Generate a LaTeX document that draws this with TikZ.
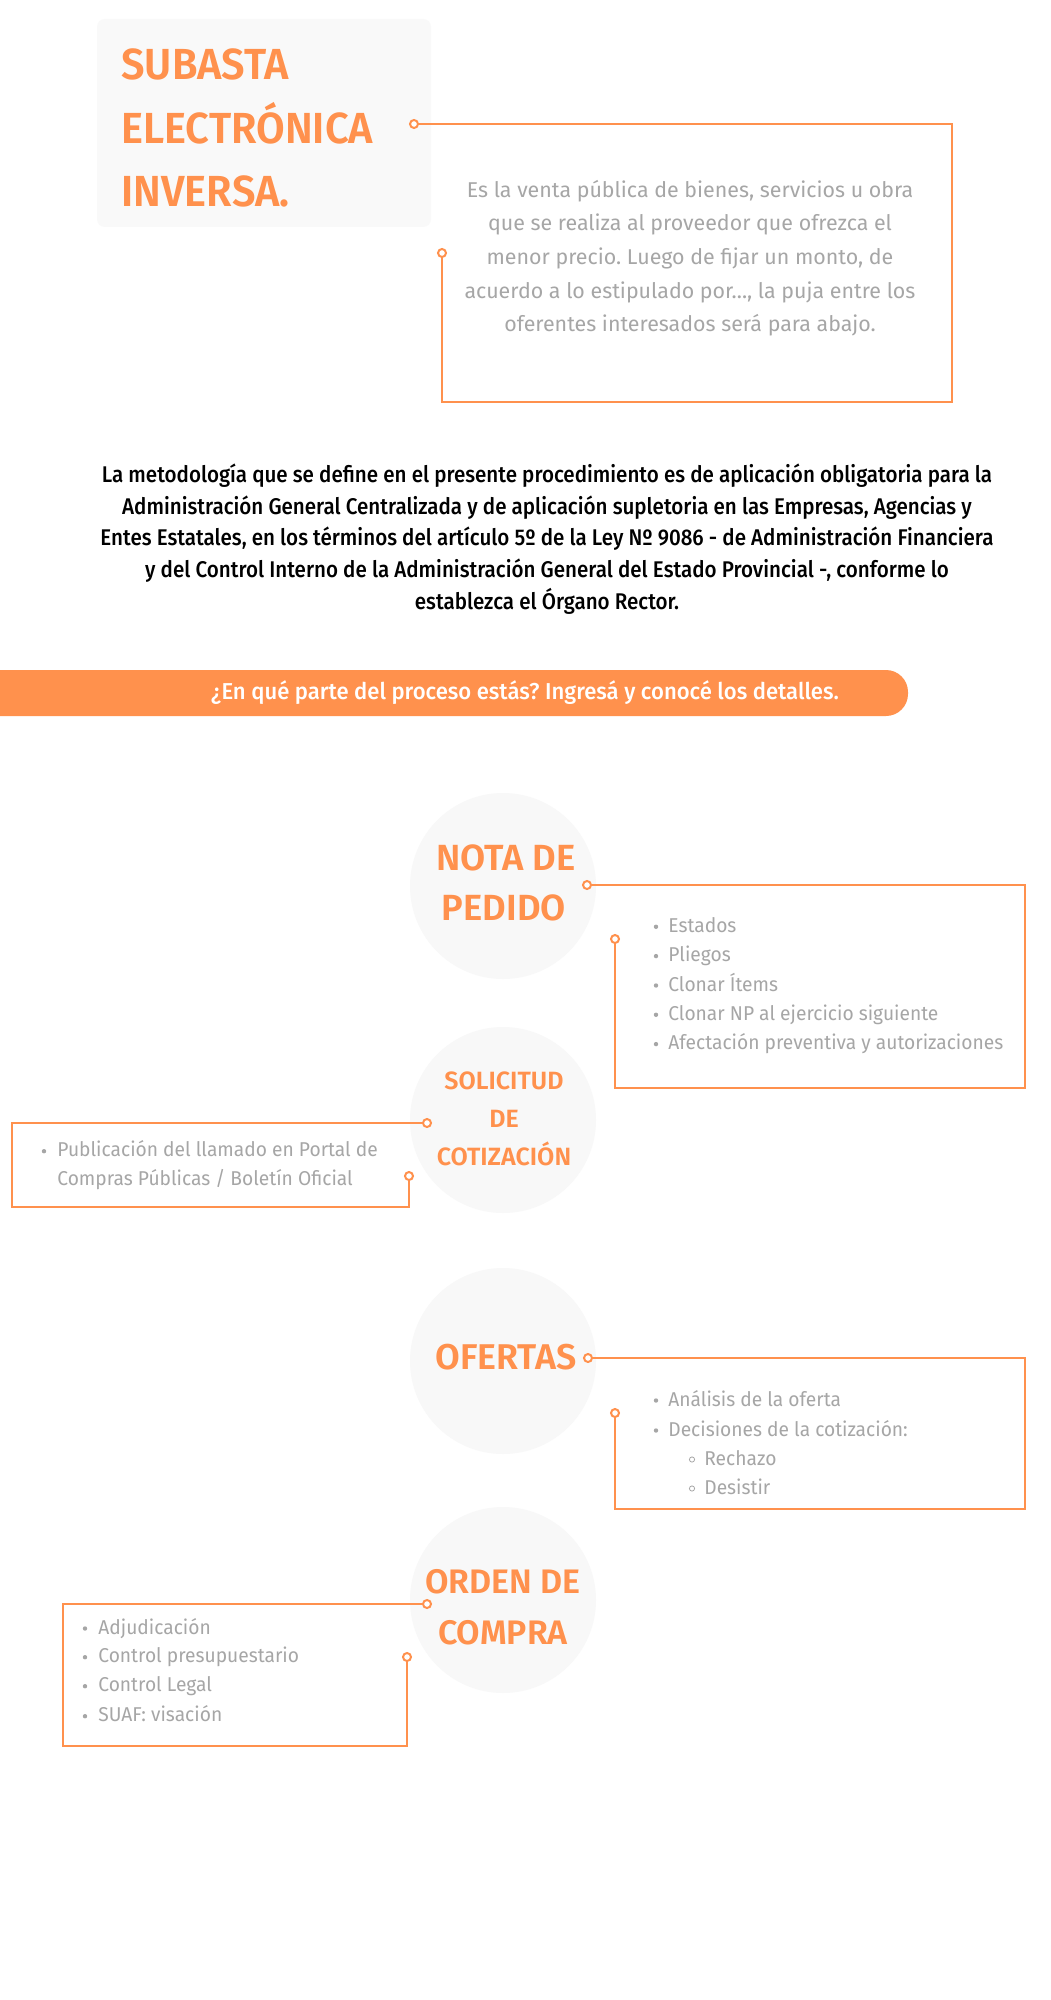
\documentclass[tikz,border=0pt]{standalone}
\usepackage{fontspec}
\setmainfont{Fira Sans}
\frenchspacing
\IfFontExistsTF{Fira Sans Medium}{%
  \newfontfamily\paraf{Fira Sans Medium}[FakeStretch=0.907]%
  \newfontfamily\banf{Fira Sans Medium}[FakeStretch=0.96]}{%
  \newfontfamily\paraf{Fira Sans Bold}[FakeStretch=0.9]%
  \newfontfamily\banf{Fira Sans Bold}[FakeStretch=0.95]}
\IfFontExistsTF{Fira Sans SemiBold}{%
  \newfontfamily\titf{Fira Sans SemiBold}[FakeStretch=0.955]%
  \newfontfamily\semif{Fira Sans SemiBold}}{%
  \newfontfamily\titf{Fira Sans Bold}[FakeStretch=0.95]%
  \newfontfamily\semif{Fira Sans Bold}}
\newfontfamily\itemf{Fira Sans}[FakeStretch=0.96]
\definecolor{orng}{HTML}{FF914D}
\definecolor{gtext}{HTML}{A6A6A6}
\definecolor{pale}{HTML}{F8F8F8}
\definecolor{boxpale}{HTML}{F9F9F9}
\begin{document}
\begin{tikzpicture}[x=0.5pt,y=-0.5pt,
  conn/.style={draw=orng, line width=1.25pt},
  dotc/.style={circle, draw=orng, line width=1pt, fill=white, inner sep=0pt, minimum size=4pt},
  bigc/.style={circle, fill=pale, inner sep=0pt, minimum size=93pt},
  ttl/.style={text=orng, font=\titf\fontsize{21.75}{26}\selectfont, anchor=base west, inner sep=0pt},
  desc/.style={text=gtext, font=\fontsize{10.7}{12}\selectfont, anchor=base, inner sep=0pt},
  para/.style={text=black, font=\paraf\fontsize{11.35}{13}\selectfont, anchor=base, inner sep=0pt},
  ban/.style={text=white, font=\banf\fontsize{11.5}{14}\selectfont, anchor=base, inner sep=0pt},
  ctitle/.style={text=orng, font=\semif\fontsize{17}{20}\selectfont, anchor=base, inner sep=0pt},
  stitle/.style={text=orng, font=\semif\fontsize{12.5}{15}\selectfont, anchor=base, inner sep=0pt},
  item/.style={text=gtext, font=\itemf\fontsize{10}{12}\selectfont, anchor=base west, inner sep=0pt},
  bul/.style={fill=gtext},
  sbul/.style={draw=gtext, line width=0.4pt}
]
\useasboundingbox (0,0) rectangle (1050,2000);
\fill[white] (0,0) rectangle (1050,2000);

% ---------- title block ----------
\fill[boxpale, rounded corners=4pt] (97,19) rectangle (431,227);
\node[ttl] (t1) at (121,80) {SUBASTA};
\node[ttl] (t2) at (121,144) {ELECTRÓNICA};
\node[ttl] (t3) at (121,207) {INVERSA.};

\node[desc] (d1) at (690,197.5) {Es la venta pública de bienes, servicios u obra};
\node[desc] (d2) at (690,231) {que se realiza al proveedor que ofrezca el};
\node[desc] (d3) at (690,265) {menor precio. Luego de fijar un monto, de};
\node[desc] (d4) at (690,298.5) {acuerdo a lo estipulado por..., la puja entre los};
\node[desc] (d5) at (690,332) {oferentes interesados será para abajo.};

\coordinate (tC) at (952,402);
\node[dotc] (tA) at (414,124) {};
\node[dotc] (tB) at (442,253) {};
\draw[conn] (tA) -| (tC) -| (tB);

% ---------- paragraph ----------
\node[para] (p1) at (547,482) {La metodología que se define en el presente procedimiento es de aplicación obligatoria para la};
\node[para] (p2) at (547,514) {Administración General Centralizada y de aplicación supletoria en las Empresas, Agencias y};
\node[para] (p3) at (547,545.5) {Entes Estatales, en los términos del artículo 5º de la Ley Nº 9086 - de Administración Financiera};
\node[para] (p4) at (547,577) {y del Control Interno de la Administración General del Estado Provincial -, conforme lo};
\node[para] (p5) at (547,609) {establezca el Órgano Rector.};

% ---------- banner ----------
\fill[orng, rounded corners=11pt] (-40,670) rectangle (908,716);
\node[ban] (bt) at (525,699) {¿En qué parte del proceso estás? Ingresá y conocé los detalles.};

% ---------- circles ----------
\node[bigc] (cNP) at (503,886) {};
\node[bigc] (cSC) at (503,1120) {};
\node[bigc] (cOF) at (503,1361) {};
\node[bigc] (cOC) at (503,1600) {};

\node[ctitle, font=\semif\fontsize{18.2}{20}\selectfont] (np1) at (506,870) {NOTA DE};
\node[ctitle, font=\semif\fontsize{18.2}{20}\selectfont] (np2) at (504,920) {PEDIDO};
\node[stitle] (sc1) at (504,1089) {SOLICITUD};
\node[stitle] (sc2) at (504,1127) {DE};
\node[stitle] (sc3) at (504,1165) {COTIZACIÓN};
\node[ctitle, font=\semif\fontsize{17.9}{20}\selectfont] (of1) at (506,1369) {OFERTAS};
\node[ctitle] (oc1) at (503,1593) {ORDEN DE};
\node[ctitle] (oc2) at (503,1644) {COMPRA};

% ---------- Nota de pedido ----------
\coordinate (nC) at (1025,1088);
\node[dotc] (nA) at (587,885) {};
\node[dotc] (nB) at (615,939) {};
\draw[conn] (nA) -| (nC) -| (nB);
\foreach \yy/\tx [count=\i] in {932.3/Estados, 961.6/Pliegos, 991/Clonar Ítems, 1020.3/Clonar NP al ejercicio siguiente, 1049.6/Afectación preventiva y autorizaciones}{
  \node[item] (ni\i) at (668,\yy) {\tx};
  \fill[bul] (656,\yy-5.5) circle (1.1pt);
}

% ---------- Solicitud de cotizacion ----------
\coordinate (sC) at (12,1207);
\node[dotc] (sA) at (427,1123) {};
\node[dotc] (sB) at (409,1176) {};
\draw[conn] (sA) -| (sC) -| (sB);
\node[item] (si1) at (57,1156.7) {Publicación del llamado en Portal de};
\node[item] (si2) at (57,1185) {Compras Públicas / Boletín Oficial};
\fill[bul] (44,1151.2) circle (1.1pt);

% ---------- Ofertas ----------
\coordinate (oC) at (1025,1509);
\node[dotc] (oA) at (588,1358) {};
\node[dotc] (oB) at (615,1413) {};
\draw[conn] (oA) -| (oC) -| (oB);
\node[item] (oi1) at (668,1406) {Análisis de la oferta};
\node[item] (oi2) at (668,1436) {Decisiones de la cotización:};
\node[item] (oi3) at (704,1465) {Rechazo};
\node[item] (oi4) at (704,1494) {Desistir};
\fill[bul] (656,1400.5) circle (1.1pt);
\fill[bul] (656,1430.5) circle (1.1pt);
\draw[sbul] (692,1459.5) circle (1.3pt);
\draw[sbul] (692,1488.5) circle (1.3pt);

% ---------- Orden de compra ----------
\coordinate (rC) at (63,1746);
\node[dotc] (rA) at (427,1604) {};
\node[dotc] (rB) at (407,1657) {};
\draw[conn] (rA) -| (rC) -| (rB);
\foreach \yy/\tx [count=\i] in {1634/Adjudicación, 1662.7/Control presupuestario, 1691.7/Control Legal, 1721.7/SUAF: visación}{
  \node[item] (ri\i) at (98,\yy) {\tx};
  \fill[bul] (85,\yy-5.5) circle (1.1pt);
}
\end{tikzpicture}
\end{document}
